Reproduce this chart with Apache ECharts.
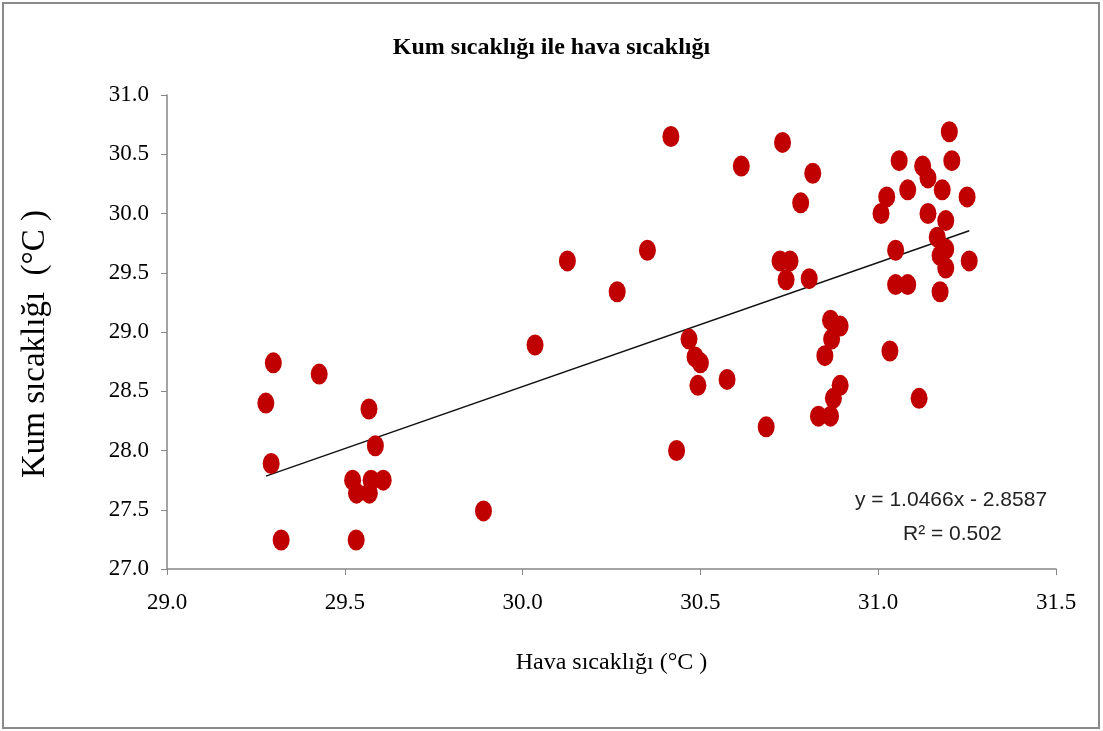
<!DOCTYPE html>
<html lang="tr">

<head>
  <meta charset="UTF-8">
  <title>Kum sıcaklığı ile hava sıcaklığı</title>
  <style>
    html, body {
      margin: 0;
      width: 100%;
      height: 100%;
      background: #fff;
    }

    .chart {
      width: 1103px;
      height: 731px;
    }
  </style>
</head>

<body>
  <div id="chart" class="chart"></div>

  <script src="https://cdn.jsdelivr.net/npm/echarts@6/dist/echarts.min.js"></script>
  <script>
    // hava sıcaklığı (x)
    var airTemp = [
      29.278, 29.299, 29.293, 29.321, 29.428, 29.568, 29.586, 29.522, 29.533, 29.574,
      29.608, 29.569, 29.532, 29.890, 30.035, 30.126, 30.266, 30.351, 30.417, 30.615,
      30.731, 30.816, 30.782, 30.724, 30.752, 30.741, 30.806, 30.468, 30.485, 30.500,
      30.493, 30.575, 30.433, 30.685, 31.200, 31.059, 31.207, 31.125, 31.140, 31.024,
      31.083, 31.180, 31.250, 31.008, 31.140, 31.190, 31.166, 31.049, 31.190, 31.174,
      31.190, 31.256, 31.049, 31.083, 31.174, 30.893, 30.874, 30.832, 30.866, 30.850,
      30.869, 31.033, 31.115, 30.866, 30.893
    ];
    // kum sıcaklığı (y)
    var sandTemp = [
      28.40, 28.74, 27.89, 27.245, 28.645, 28.35, 28.04, 27.75, 27.64, 27.75,
      27.75, 27.64, 27.245, 27.49, 28.89, 29.60, 29.34, 29.69, 30.65, 30.40,
      30.60, 30.34, 30.09, 29.60, 29.60, 29.44, 29.45, 28.94, 28.79, 28.74,
      28.55, 28.60, 28.00, 28.20, 30.69, 30.446, 30.446, 30.40, 30.30, 30.14,
      30.20, 30.20, 30.14, 30.00, 30.00, 29.94, 29.80, 29.69, 29.70, 29.645,
      29.54, 29.60, 29.40, 29.40, 29.34, 28.55, 28.44, 28.29, 28.29, 28.80,
      28.94, 28.84, 28.44, 29.10, 29.05
    ];
    // doğrusal eğilim: y = a x + b
    var trendCoef = [1.0466, -2.8587];
    var trendText = ['y = 1.0466x - 2.8587', 'R² = 0.502'];

    var points = airTemp.map(function (x, i) { return [x, sandTemp[i]]; });
    var xMin = Math.min.apply(null, airTemp);
    var xMax = Math.max.apply(null, airTemp);
    var trend = [xMin, xMax].map(function (x) {
      return [x, trendCoef[0] * x + trendCoef[1]];
    });

    var myChart = echarts.init(document.getElementById('chart'));
    var serif = "'Liberation Serif', 'Times New Roman', serif";
    var axisGray = '#868686';

    var option = {
      animation: false,
      title: {
        text: 'Kum sıcaklığı ile hava sıcaklığı',
        left: 'center',
        top: 31,
        textStyle: { fontFamily: serif, fontWeight: 'bold', fontSize: 24, color: '#000' }
      },
      grid: { left: 167, right: 47, top: 95, bottom: 162 },
      xAxis: {
        type: 'value',
        min: 29, max: 31.5, interval: 0.5,
        name: 'Hava sıcaklığı (°C )',
        nameLocation: 'middle',
        nameGap: 82,
        nameTextStyle: { fontFamily: serif, fontSize: 24, color: '#000' },
        axisLine: { lineStyle: { color: axisGray, width: 1.5 } },
        axisTick: { length: 6, lineStyle: { color: axisGray } },
        axisLabel: {
          margin: 22, fontFamily: serif, fontSize: 23, color: '#000',
          formatter: function (v) { return v.toFixed(1); }
        },
        splitLine: { show: false }
      },
      yAxis: {
        type: 'value',
        min: 27, max: 31, interval: 0.5,
        name: 'Kum sıcaklığı  (°C )',
        nameLocation: 'middle',
        nameGap: 115,
        nameTextStyle: { fontFamily: serif, fontSize: 33, color: '#000', padding: [0, 24, 0, 0] },
        axisLine: { show: true, lineStyle: { color: axisGray, width: 1.5 } },
        axisTick: { show: true, length: 6, lineStyle: { color: axisGray } },
        axisLabel: {
          margin: 18, fontFamily: serif, fontSize: 23, color: '#000',
          formatter: function (v) { return v.toFixed(1); }
        },
        splitLine: { show: false }
      },
      graphic: [
        {
          type: 'rect',
          shape: { x: 3, y: 3, width: 1096, height: 725 },
          style: { fill: 'none', stroke: '#8a8a8a', lineWidth: 2 },
          silent: true
        },
        {
          type: 'text', left: 855, top: 490,
          style: { text: trendText[0], font: "21px 'Liberation Sans Narrow', 'Liberation Sans', sans-serif", fill: '#222' }
        },
        {
          type: 'text', left: 903, top: 524,
          style: { text: trendText[1], font: "21px 'Liberation Sans Narrow', 'Liberation Sans', sans-serif", fill: '#222' }
        }
      ],
      series: [
        {
          type: 'scatter',
          data: points,
          symbol: 'path://M50,0A50,50,0,1,1,50,100A50,50,0,1,1,50,0Z',
          symbolSize: [17, 21],
          itemStyle: { color: '#c00000', opacity: 1 },
          z: 3
        },
        {
          type: 'line',
          data: trend,
          symbol: 'none',
          lineStyle: { color: '#111', width: 1.5 },
          z: 2
        }
      ]
    };

    myChart.setOption(option);
  </script>
</body>

</html>
